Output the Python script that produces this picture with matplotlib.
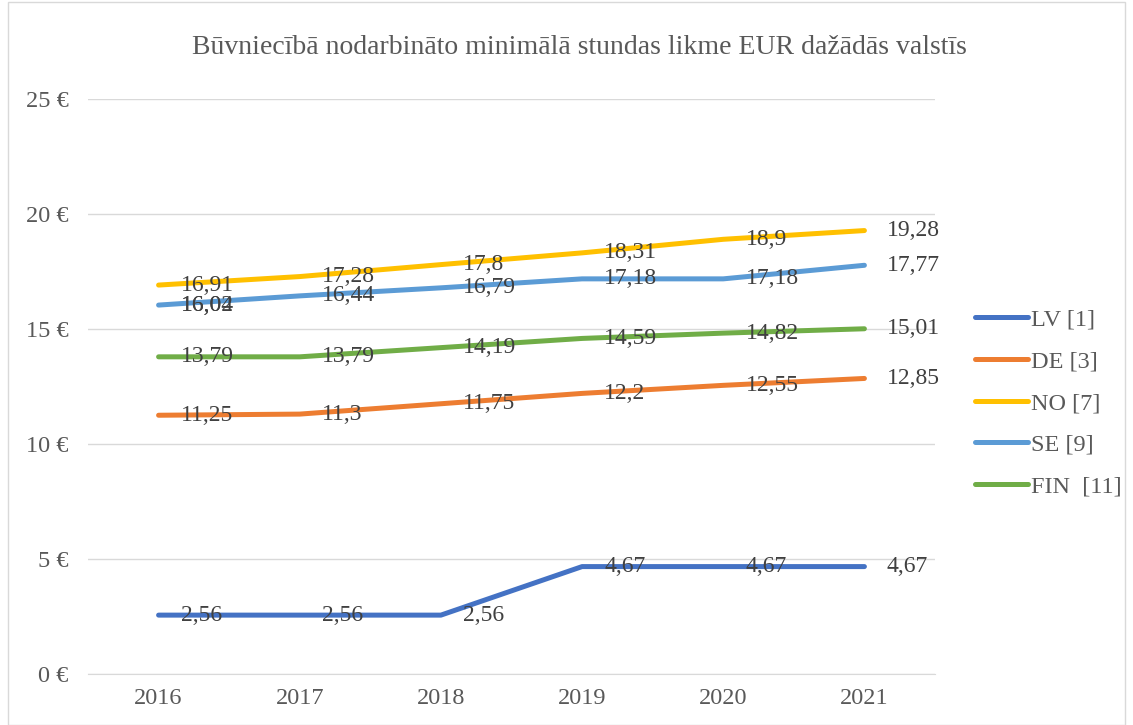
import matplotlib.pyplot as plt
from matplotlib.patches import Rectangle

years = ["2016", "2017", "2018", "2019", "2020", "2021"]
series_names = ["LV [1]", "DE [3]", "NO [7]", "SE [9]", "FIN  [11]"]
lv = [2.56, 2.56, 2.56, 4.67, 4.67, 4.67]
de = [11.25, 11.3, 11.75, 12.2, 12.55, 12.85]
no = [16.91, 17.28, 17.8, 18.31, 18.9, 19.28]
se = [16.04, 16.44, 16.79, 17.18, 17.18, 17.77]
fin = [13.79, 13.79, 14.19, 14.59, 14.82, 15.01]
colors = ["#4472C4", "#ED7D31", "#FFC000", "#5B9BD5", "#70AD47"]
# a stray second label sits on top of the SE 2016 one in the original
extra_label = ("SE [9]", 0, "16,02")

plt.rcParams["font.family"] = ["Liberation Serif", "DejaVu Serif"]

fig = plt.figure(figsize=(11.33, 7.25), dpi=100)
ax = fig.add_axes([88 / 1133, 1 - 674 / 725, 847 / 1133, 575 / 725])

x = list(range(len(years)))
all_series = [lv, de, no, se, fin]
for name, vals, c in zip(series_names, all_series, colors):
    ax.plot(x, vals, color=c, lw=3.6, solid_capstyle="round",
            solid_joinstyle="round", label=name)

def fmt(v):
    return ("%g" % v).replace(".", ",")

for name, vals in zip(series_names, all_series):
    for xi, v in zip(x, vals):
        ax.annotate(fmt(v), (xi, v), xytext=(16, 0), textcoords="offset points",
                    ha="left", va="center", fontsize=17, color="#404040")
name, xi, txt = extra_label
ax.annotate(txt, (xi, se[xi]), xytext=(16, 0), textcoords="offset points",
            ha="left", va="center", fontsize=17, color="#404040")

ax.set_xlim(-0.5, 5.5)
ax.set_ylim(0, 25)
ax.set_xticks(x)
ax.set_xticklabels(years)
ax.set_yticks([0, 5, 10, 15, 20, 25])
ax.set_yticklabels(["%d €" % v for v in [0, 5, 10, 15, 20, 25]])
ax.tick_params(length=0, labelsize=17.5, labelcolor="#595959", pad=14)
ax.tick_params(axis="x", pad=10)
ax.grid(axis="y", color="#d9d9d9", lw=1)
ax.set_axisbelow(True)
for s in ["top", "right", "left"]:
    ax.spines[s].set_visible(False)
ax.spines["bottom"].set_color("#d9d9d9")

fig.text(579 / 1133, 1 - 48 / 725,
         "Būvniecībā nodarbināto minimālā stundas likme EUR dažādās valstīs",
         ha="center", va="center", fontsize=20, color="#595959")

leg = ax.legend(loc="center left", bbox_to_anchor=(953 / 1133, 1 - 403 / 725),
                bbox_transform=fig.transFigure, frameon=False, fontsize=17.5,
                handlelength=2.2, labelspacing=0.82, handletextpad=0.12)
for t in leg.get_texts():
    t.set_color("#595959")

fig.patches.append(Rectangle((8 / 1133, 0), 1 - 16 / 1133, 1 - 2 / 725,
                             transform=fig.transFigure, fill=False,
                             edgecolor="#d9d9d9", lw=1))

fig.savefig("out.png", dpi=100)
